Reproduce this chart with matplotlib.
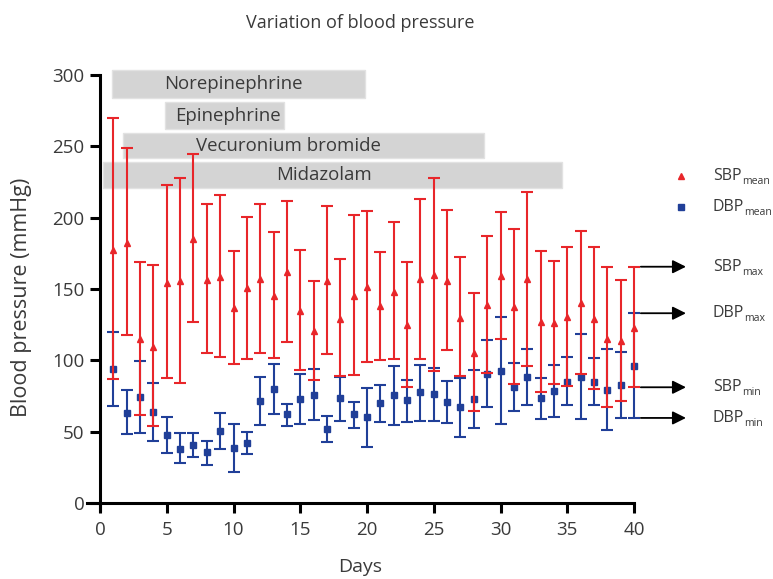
import matplotlib
matplotlib.use("Agg")
import matplotlib.pyplot as plt
import numpy as np
from matplotlib.patches import Rectangle

# blood pressure per day (mmHg)
days = np.arange(1, 41)
sbp_mean = [177, 182.5, 114.7, 109.6, 154.4, 155.6, 184.8, 156.3, 158.6, 136.4,
            150.5, 156.8, 145, 161.7, 134.8, 120.6, 155.8, 129.2, 145, 151.2,
            137.9, 148.1, 124.8, 156.8, 159.8, 155.6, 129.9, 104.9, 138.8, 159.1,
            137.6, 156.8, 127.1, 126.4, 130.1, 140, 128.8, 115.2, 113.8, 122.9]
sbp_max = [269.6, 249, 168.7, 166.6, 222.7, 228, 244.4, 209.3, 215.6, 176.8,
           200.7, 209.3, 190.2, 211.7, 177.3, 155.6, 208.2, 171.3, 201.6, 204.7,
           176, 197.2, 168.7, 213, 227.6, 205.4, 172.7, 147.4, 187.1, 204.2,
           192, 217.8, 176.6, 169.6, 179.7, 190.9, 179.7, 165.6, 156.3, 165.6]
sbp_min = [86.7, 117.8, 61.9, 54, 87.8, 84, 127, 104.9, 102.5, 97.7,
           100.7, 104.9, 101.4, 113, 93, 86.2, 104.2, 89, 90, 98.8,
           100.2, 100.7, 81.5, 100.7, 92.7, 107.2, 89, 64.5, 91.3, 115.2,
           83.4, 96.3, 77.8, 83.4, 82, 90.4, 79.7, 67.1, 71.7, 81.1]
dbp_mean = [94, 63.3, 74.5, 64, 47.7, 38, 40.7, 35.5, 50.7, 38.3,
            42.3, 71.5, 80, 62.2, 72.9, 75.9, 52.1, 73.4, 62.2, 60.1,
            69.9, 75.5, 72, 77.6, 76.4, 71, 67.1, 72.9, 90.4, 92.7,
            81.5, 88.1, 73.4, 78.5, 85, 88.1, 84.8, 79.4, 82.7, 96.3]
dbp_max = [120, 79, 99.7, 84.3, 60.3, 48.8, 49, 43.7, 63.3, 55.4,
           49.8, 88, 97.4, 69.6, 90.4, 93.7, 61, 88.5, 70.8, 80.4,
           82.7, 96.3, 86.2, 96.7, 94.4, 85.5, 87.4, 93.2, 114.2, 130.1,
           98.1, 108.2, 87.8, 96.7, 102.3, 118.2, 101.4, 107.7, 105.8, 133]
dbp_min = [68, 48, 49.3, 43.7, 34.8, 27.8, 32, 26.9, 37.6, 21.7,
           34.3, 54.7, 62.4, 54.2, 55.4, 58.2, 43, 57.7, 52.8, 39.5,
           56.6, 54.7, 57, 57.5, 57.7, 56.3, 46.5, 52.4, 67.5, 55.4,
           64.3, 68.9, 59.1, 60.1, 68.7, 58.7, 68.9, 51.2, 59.8, 59.6]

# drug administration periods (days)
drugs = ["Norepinephrine", "Epinephrine", "Vecuronium bromide", "Midazolam"]
drug_start = [0.87, 4.87, 1.7, 0.25]
drug_end = [19.85, 13.8, 28.8, 34.6]

plt.rcParams['font.family'] = ['Open Sans', 'DejaVu Sans']

txt = '#3a3a3a'
red = '#e8262a'
blue = '#203f98'

fig = plt.figure(figsize=(7.73, 5.79), dpi=100)
ax = fig.add_axes([0.1121, 0.119, 0.7081, 0.7515])

sbp_mean = np.array(sbp_mean)
dbp_mean = np.array(dbp_mean)
eb_d = ax.errorbar(days, dbp_mean,
                   yerr=[dbp_mean - np.array(dbp_min), np.array(dbp_max) - dbp_mean],
                   fmt='s', color=blue, ms=5, lw=1.5, capsize=4.5, capthick=1.5, zorder=3)
eb_s = ax.errorbar(days, sbp_mean,
                   yerr=[sbp_mean - np.array(sbp_min), np.array(sbp_max) - sbp_mean],
                   fmt='^', color=red, ms=5, lw=1.5, capsize=4.5, capthick=1.5, zorder=4)
for eb in (eb_d, eb_s):
    for a in eb.get_children():
        a.set_clip_on(False)

# drug bars
rows = [(284, 303.5), (262, 281), (241.6, 259), (220.6, 239.2)]
text_x = [10.0, 9.55, 14.1, 16.8]
for name, s, e, (y0, y1), tx in zip(drugs, drug_start, drug_end, rows, text_x):
    ax.add_patch(Rectangle((s, y0), e - s, y1 - y0, facecolor='#d4d4d4',
                           edgecolor='#e2e2e2', lw=1, clip_on=False, zorder=2))
    ax.text(tx, (y0 + y1) / 2, name, ha='center', va='center', fontsize=13.4,
            color=txt, zorder=5)

ax.set_xlim(-1, 40)
ax.set_ylim(-5, 300)
ax.spines['left'].set_position(('data', 0))
ax.spines['bottom'].set_position(('data', 0))
for sp in ['top', 'right']:
    ax.spines[sp].set_visible(False)
for sp in ['left', 'bottom']:
    ax.spines[sp].set_linewidth(2.2)
ax.set_xticks(np.arange(0, 41, 5))
ax.set_yticks(np.arange(0, 301, 50))
ax.tick_params(width=2.2, length=7, labelsize=13.5, labelcolor=txt, pad=4)
ax.tick_params(axis='x', pad=6)
ax.set_xlabel('Days', fontsize=14, color=txt, labelpad=14)
ax.set_ylabel('Blood pressure (mmHg)', fontsize=15.5, color=txt)
ax.yaxis.set_label_coords(-0.1, 0.49)
ax.set_title('Variation of blood pressure', fontsize=13, color=txt, pad=34)

# legend and arrows on the right
ax.plot([43.5], [229.2], '^', color=red, ms=5, clip_on=False)
ax.plot([43.5], [207.5], 's', color=blue, ms=5, clip_on=False)


def sub_label(y, main, sub):
    t = ax.annotate(main, xy=(45.9, y), fontsize=11.5, color=txt, va='center',
                    annotation_clip=False)
    ax.annotate(sub, xy=(1, 0), xycoords=t, xytext=(0.3, 0),
                textcoords='offset points', fontsize=7.6, color=txt,
                va='baseline', annotation_clip=False)


sub_label(229.2, 'SBP', 'mean')
sub_label(207.5, 'DBP', 'mean')

arrow_y = [sbp_max[-1], dbp_max[-1], sbp_min[-1], dbp_min[-1]]
arrow_main = ['SBP', 'DBP', 'SBP', 'DBP']
arrow_sub = ['max', 'max', 'min', 'min']
for y, m, s in zip(arrow_y, arrow_main, arrow_sub):
    ax.annotate('', xy=(44.1, y), xytext=(40.3, y),
                arrowprops=dict(arrowstyle='-|>', color='black', lw=1.3,
                                mutation_scale=20), annotation_clip=False)
    sub_label(y, m, s)

fig.savefig('out.png', dpi=100)
